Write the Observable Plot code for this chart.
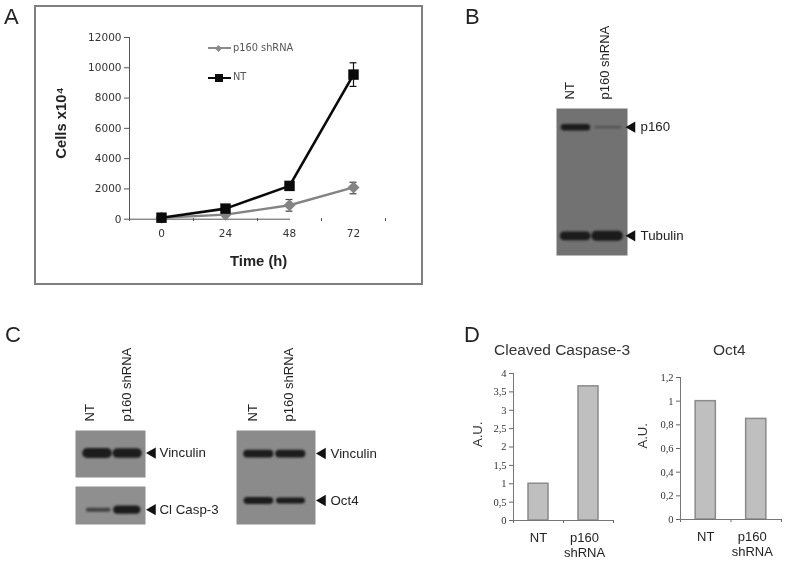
<!DOCTYPE html>
<html><head><meta charset="utf-8">
<script src="https://cdn.jsdelivr.net/npm/d3@7"></script>
<script src="https://cdn.jsdelivr.net/npm/@observablehq/plot@0.6"></script>
<style>
html,body{margin:0;padding:0;background:#fff}
#fig{position:relative;width:787px;height:563px;overflow:hidden;font-family:"Liberation Sans",Arial,sans-serif;color:#222;filter:blur(0.3px)}
.abs{position:absolute}
.abs svg{display:block;overflow:visible;background:transparent}
.letter{position:absolute;font-size:22px;line-height:22px;color:#222;font-weight:400}
.title{position:absolute;font-size:15.5px;line-height:18px;color:#333;white-space:nowrap}
.leg{position:absolute;font-size:9.8px;line-height:12px;color:#555;white-space:nowrap;font-family:"DejaVu Sans",sans-serif}
#frameA{position:absolute;left:34px;top:5px;width:385px;height:276px;border:2px solid #7f7f7f}
</style></head><body><div id="fig"></div>
<script>
// Panel A: growth curve
const hours = [0, 24, 48, 72];
const ntCells = [100, 700, 2200, 9550];
const shCells = [100, 300, 920, 2100];
const ntErrLow = [null, null, null, 8770];
const ntErrHigh = [null, null, null, 10330];
const shErrLow = [null, null, 530, 1680];
const shErrHigh = [null, null, 1300, 2440];
const yTicksA = [0, 2000, 4000, 6000, 8000, 10000, 12000];
const xEdgesA = [-12, 12, 36, 60, 84];

// Blot bands: signal strength read by eye, migration as a fraction of membrane height
const lanes = ["NT", "p160 shRNA"];
const blotB = [
  {protein: "p160", migration: 0.127, signal: [0.55, 0.08]},
  {protein: "Tubulin", migration: 0.866, signal: [0.8, 0.95]}
];
const blotC1 = [{protein: "Vinculin", migration: 0.48, signal: [0.95, 0.9]}];
const blotC2 = [{protein: "Cl Casp-3", migration: 0.61, signal: [0.28, 0.75]}];
const blotC3 = [
  {protein: "Vinculin", migration: 0.245, signal: [0.7, 0.7]},
  {protein: "Oct4", migration: 0.745, signal: [0.6, 0.5]}
];

// Panel D: densitometry
const casp3 = [1, 3.65];
const oct4 = [1, 0.85];
const casp3Ticks = [0, 0.5, 1, 1.5, 2, 2.5, 3, 3.5, 4];
const oct4Ticks = [0, 0.2, 0.4, 0.6, 0.8, 1, 1.2];

const fig = document.getElementById("fig");
function place(el, left, top) {
  const d = document.createElement("div");
  d.className = "abs";
  d.style.left = left + "px";
  d.style.top = top + "px";
  d.appendChild(el);
  fig.appendChild(d);
}
function html(cls, text, left, top) {
  const d = document.createElement("div");
  d.className = cls;
  d.textContent = text;
  d.style.left = left + "px";
  d.style.top = top + "px";
  fig.appendChild(d);
  return d;
}
const frameA = document.createElement("div");
frameA.id = "frameA";
fig.appendChild(frameA);

// ---- A
const rowsNT = hours.map((h, i) => ({h, v: ntCells[i], lo: ntErrLow[i], hi: ntErrHigh[i]}));
const rowsSH = hours.map((h, i) => ({h, v: shCells[i], lo: shErrLow[i], hi: shErrHigh[i]}));
const errs = r => r.filter(d => d.hi != null);
const caps = r => errs(r).flatMap(d => [d.lo, d.hi].map(v => ({h: d.h, v})));
const capHalf = 1.3;
const LEFT_A = 129, TOP_A = 37;
place(Plot.plot({
  width: 280, height: 225,
  marginLeft: 95, marginRight: 24, marginTop: 20, marginBottom: 24,
  style: {background: "transparent", fontFamily: "'DejaVu Sans',sans-serif", color: "#333"},
  x: {type: "linear", domain: [-12, 84], range: [95, 351]},
  y: {domain: [0, 12000], range: [201.7, 20]},
  marks: [
    Plot.axisY({ticks: yTicksA, tickSize: 5, tickPadding: 3, fontSize: 10.5, label: null, stroke: "#555", tickFormat: d => String(d)}),
    Plot.axisX({ticks: xEdgesA, tickSize: 3, tickFormat: () => "", label: null, stroke: "#555"}),
    Plot.axisX({ticks: hours, tickSize: 0, tickPadding: 11, fontSize: 10.5, label: null, tickFormat: d => String(d)}),
    Plot.ruleX([-12], {stroke: "#555"}),
    Plot.ruleY([0], {stroke: "#555"}),
    Plot.ruleX(errs(rowsSH), {x: "h", y1: "lo", y2: "hi", stroke: "#444", strokeWidth: 1.2}),
    Plot.ruleY(caps(rowsSH), {y: "v", x1: d => d.h - capHalf, x2: d => d.h + capHalf, stroke: "#444", strokeWidth: 1.2}),
    Plot.line(rowsSH, {x: "h", y: "v", stroke: "#848484", strokeWidth: 2.4}),
    Plot.dot(rowsSH, {x: "h", y: "v", symbol: "diamond2", r: 5.4, fill: "#848484", stroke: "none"}),
    Plot.ruleX(errs(rowsNT), {x: "h", y1: "lo", y2: "hi", stroke: "#111", strokeWidth: 1.2}),
    Plot.ruleY(caps(rowsNT), {y: "v", x1: d => d.h - capHalf, x2: d => d.h + capHalf, stroke: "#111", strokeWidth: 1.2}),
    Plot.line(rowsNT, {x: "h", y: "v", stroke: "#0a0a0a", strokeWidth: 2.6}),
    Plot.dot(rowsNT, {x: "h", y: "v", symbol: "square", r: 5.9, fill: "#0a0a0a", stroke: "none"})
  ]
}), LEFT_A - 95, TOP_A - 20);

html("title", "Cells x10\u2074", 0, 0).style.cssText += "left:21px;top:114px;width:80px;text-align:center;transform:rotate(-90deg);font-weight:700;font-size:14.8px;color:#222";
html("title", "Time (h)", 230, 252).style.cssText += "font-weight:700;font-size:14.8px;color:#222";

function legendRow(top, label, color, sw, marker) {
  const line = document.createElement("div");
  line.style.cssText = `position:absolute;left:208px;top:${top - sw / 2}px;width:23px;height:${sw}px;background:${color}`;
  fig.appendChild(line);
  const m = document.createElement("div");
  m.style.cssText = marker === "sq"
    ? `position:absolute;left:214.5px;top:${top - 4}px;width:8px;height:8px;background:${color}`
    : `position:absolute;left:215.5px;top:${top - 2.5}px;width:5px;height:5px;background:${color};transform:rotate(45deg)`;
  fig.appendChild(m);
  html("leg", label, 233, top - (marker === "sq" ? 7.5 : 6.5));
}
legendRow(48, "p160 shRNA", "#8a8a8a", 1.8, "di");
legendRow(78, "NT", "#0a0a0a", 2.4, "sq");

// ---- Blots
function blot(x0, y0, w, h, bg, laneRange, rows, labelDx, arrowGap, labelGap, tops) {
  const mt = tops, mr = 110;
  const bands = rows.flatMap(r => lanes.map((l, i) => ({lane: l, migration: r.migration, s: r.signal[i]})));
  const thick = s => 1.5 + 9 * s;
  const op = s => Math.min(0.95, 0.25 + 1.4 * s);
  const axisMarks = tops > 0 ? lanes.map((l, i) => Plot.axisX({ticks: [l], anchor: "top", tickRotate: -90, tickSize: 0, tickPadding: 9, fontSize: 13, label: null, dx: labelDx[i]})) : [];
  place(Plot.plot({
    width: w + mr, height: h + mt, marginLeft: 0, marginRight: mr, marginTop: mt, marginBottom: 0,
    style: {background: "transparent", fontFamily: "'Liberation Sans',Arial,sans-serif", color: "#222"},
    x: tops > 0 ? {type: "band", domain: lanes, range: laneRange, padding: 0} : {type: "band", domain: lanes, range: laneRange, padding: 0, axis: null},
    y: {domain: [1, 0], axis: null},
    marks: [
      Plot.frame({fill: bg, stroke: "none"}),
      ...bands.map(b => Plot.tickY([b], {
        x: "lane", y: "migration",
        stroke: "#161616", strokeWidth: thick(b.s), strokeOpacity: op(b.s), strokeLinecap: "round",
        insetLeft: thick(b.s) / 2 + (1 - b.s) * 4, insetRight: thick(b.s) / 2 + (1 - b.s) * 2,
        imageFilter: "blur(1.1px)"
      })),
      ...axisMarks,
      Plot.dot(rows, {y: "migration", frameAnchor: "right", symbol: "triangle", rotate: -90, r: 4.2, dx: arrowGap, fill: "#111"}),
      Plot.text(rows, {y: "migration", text: "protein", frameAnchor: "right", textAnchor: "start", dx: labelGap, fontSize: 13.3, fill: "#222"})
    ]
  }), x0, y0 - mt);
}
blot(556, 108, 71, 147, "#727272", [3, 67], blotB, [-6, -3], 4.5, 13, 90);
blot(75, 430, 70, 47, "#8b8b8b", [6, 67], blotC1, [-8, -1], 7, 14, 90);
blot(75, 486, 70, 38, "#8f8f8f", [7, 66], blotC2, [-8, -1], 7, 14, 0);
blot(236, 430, 79, 94, "#8b8b8b", [6, 70], blotC3, [-6, -2], 7, 15, 90);

// ---- D
function bars(left, right, base, top, values, ticks, yMax, labelX) {
  const mL = left - labelX + 20, mB = 50, mT = 6;
  const W = mL + (right - left) + 6, H = (base - top) + mT + mB;
  const rows = values.map((v, i) => ({i, v}));
  const catAxis = (t, dx) => Plot.axisX({ticks: [t], tickSize: 0, tickPadding: 11, fontSize: 13, label: null, lineHeight: 1.15, fill: "#222", dx,
    tickFormat: d => lanes[d - 0.5].replace(" ", "\n")});
  place(Plot.plot({
    width: W, height: H, marginLeft: mL, marginRight: 6, marginTop: mT, marginBottom: mB,
    style: {background: "transparent", fontFamily: "'Liberation Sans',Arial,sans-serif", color: "#333"},
    x: {type: "linear", domain: [0, 2]},
    y: {domain: [0, yMax], nice: false},
    marks: [
      Plot.axisY({ticks, tickSize: 4, tickPadding: 3, fontSize: 10.5, fontFamily: "'Liberation Serif',serif", label: null, stroke: "#666",
        tickFormat: d => String(d).replace(".", ",")}),
      Plot.axisX({ticks: [0, 1, 2], tickSize: 3, tickFormat: () => "", label: null, stroke: "#666"}),
      catAxis(0.5, 0),
      catAxis(1.5, -4),
      Plot.rectY(rows, {x1: d => d.i + 0.3, x2: d => d.i + 0.7, y: "v", fill: "#bfbfbf", stroke: "#8a8a8a", strokeWidth: 1.5}),
      Plot.frame({anchor: "left", stroke: "#777"}),
      Plot.ruleY([0], {stroke: "#777"}),
      Plot.text(["A.U."], {text: d => d, frameAnchor: "left", rotate: -90, dx: 20 - mL, fontSize: 13, fill: "#333"})
    ]
  }), left - mL, top - mT);
}
bars(513, 613, 520, 373, casp3, casp3Ticks, 4, 477);
bars(680, 781, 519, 377, oct4, oct4Ticks, 1.2, 642);

html("letter", "A", 4, 6);
html("letter", "B", 465, 6);
html("letter", "C", 5, 324);
html("letter", "D", 464, 324);
html("title", "Cleaved Caspase-3", 494, 341);
html("title", "Oct4", 713, 341);
</script></body></html>
